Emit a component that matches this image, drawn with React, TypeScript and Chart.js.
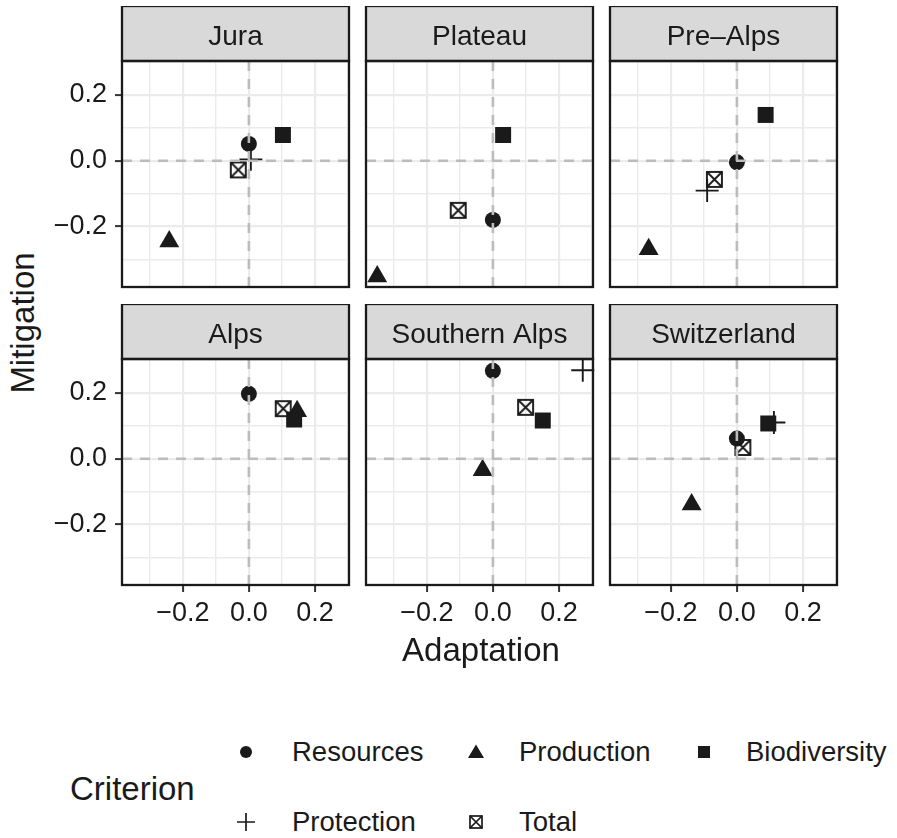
import React, { useEffect, useRef } from 'react';
import { Chart, registerables } from 'chart.js';

Chart.register(...registerables);

// ---------------- data ----------------
const REGIONS = ['Jura', 'Plateau', 'Pre–Alps', 'Alps', 'Southern Alps', 'Switzerland'];
const CRITERIA = ['Resources', 'Production', 'Biodiversity', 'Protection', 'Total'];

const RESOURCES_X = [0, 0, 0, 0, 0, 0];
const RESOURCES_Y = [0.051, -0.18, -0.005, 0.197, 0.267, 0.061];
const PRODUCTION_X = [-0.241, -0.35, -0.267, 0.146, -0.031, -0.137];
const PRODUCTION_Y = [-0.246, -0.352, -0.269, 0.144, -0.035, -0.139];
const BIODIVERSITY_X = [0.103, 0.031, 0.087, 0.137, 0.151, 0.095];
const BIODIVERSITY_Y = [0.078, 0.078, 0.139, 0.119, 0.116, 0.107];
const PROTECTION_X: (number | null)[] = [0.006, null, -0.09, null, 0.272, 0.112];
const PROTECTION_Y: (number | null)[] = [0.004, null, -0.091, null, 0.269, 0.11];
const TOTAL_X = [-0.032, -0.105, -0.068, 0.104, 0.099, 0.018];
const TOTAL_Y = [-0.028, -0.151, -0.057, 0.152, 0.156, 0.034];

const AXIS_MIN = -0.384;
const AXIS_MAX = 0.303;
const MAJOR_TICKS = [-0.2, 0, 0.2];
const TICK_LABELS = ['−0.2', '0.0', '0.2'];
const MINOR_TICKS = [-0.3, -0.1, 0.1, 0.3];

const X_TITLE = 'Adaptation';
const Y_TITLE = 'Mitigation';
const LEGEND_TITLE = 'Criterion';

// ---------------- layout / style ----------------
const FONT = '"Liberation Sans", Arial, Helvetica, sans-serif';
const INK = '#1a1a1a';
const GRID_COLOR = '#ebebeb';
const COL_LEFT = [122, 366, 610];
const ROW_TOP = [61, 359];
const PANEL_W = 227;
const PANEL_H = 226;
const STRIP_H = 55;
const Y_AXIS_W = 80;
const X_AXIS_H = 56;
const PAD_R = 10;

Chart.defaults.font.family = FONT;

const SERIES_X = [RESOURCES_X, PRODUCTION_X, BIODIVERSITY_X, PROTECTION_X, TOTAL_X];
const SERIES_Y = [RESOURCES_Y, PRODUCTION_Y, BIODIVERSITY_Y, PROTECTION_Y, TOTAL_Y];

function makeBoxCross(size: number, lw: number): HTMLCanvasElement {
  const c = document.createElement('canvas');
  const s = Math.ceil(size + lw + 2);
  c.width = s;
  c.height = s;
  const g = c.getContext('2d')!;
  const o = (s - size) / 2;
  g.strokeStyle = INK;
  g.lineWidth = lw;
  g.strokeRect(o, o, size, size);
  g.beginPath();
  g.moveTo(o, o);
  g.lineTo(o + size, o + size);
  g.moveTo(o + size, o);
  g.lineTo(o, o + size);
  g.stroke();
  return c;
}

const isMajor = (v: any) => MAJOR_TICKS.some((m) => Math.abs(m - v) < 1e-9);
const tickLabel = (v: any) => {
  const i = MAJOR_TICKS.findIndex((m) => Math.abs(m - v) < 1e-9);
  return i >= 0 ? TICK_LABELS[i] : '';
};
const GRID_TICKS = [...MAJOR_TICKS, ...MINOR_TICKS].sort((a, b) => a - b);

function buildDatasets(index: number) {
  const boxCross = makeBoxCross(15, 1.9);
  const styles: any[] = [
    { pointStyle: 'circle', pointRadius: 8, order: 5, borderWidth: 0 },
    { pointStyle: 'triangle', pointRadius: 11.5, order: 3, borderWidth: 0 },
    { pointStyle: 'rect', pointRadius: 11.3, order: 2, borderWidth: 0 },
    { pointStyle: 'cross', pointRadius: 11.5, order: 1, borderWidth: 1.9 },
    { pointStyle: boxCross, pointRadius: 8, order: 4, borderWidth: 0 },
  ];
  return CRITERIA.map((label, k) => {
    const x = SERIES_X[k][index];
    const y = SERIES_Y[k][index];
    const st = styles[k];
    return {
      label,
      data: x === null || y === null ? [] : [{ x, y }],
      pointStyle: st.pointStyle,
      pointRadius: st.pointRadius,
      pointBorderWidth: st.borderWidth,
      borderWidth: st.borderWidth,
      backgroundColor: INK,
      borderColor: INK,
      pointBackgroundColor: INK,
      pointBorderColor: INK,
      order: st.order,
      clip: false as any,
      showLine: false,
    };
  });
}

function panelPlugin(name: string) {
  return {
    id: 'panelDecor',
    afterDatasetsDraw(chart: any) {
      const { ctx, chartArea: a, scales } = chart;
      const x0 = scales.x.getPixelForValue(0);
      const y0 = scales.y.getPixelForValue(0);
      ctx.save();
      ctx.beginPath();
      ctx.rect(a.left, a.top, a.right - a.left, a.bottom - a.top);
      ctx.clip();
      ctx.strokeStyle = '#bcbcbc';
      ctx.lineWidth = 2.6;
      ctx.setLineDash([10, 8]);
      ctx.beginPath();
      ctx.moveTo(a.left, y0);
      ctx.lineTo(a.right, y0);
      ctx.stroke();
      ctx.beginPath();
      ctx.moveTo(x0, a.top);
      ctx.lineTo(x0, a.bottom);
      ctx.stroke();
      ctx.restore();
    },
    afterDraw(chart: any) {
      const { ctx, chartArea: a } = chart;
      const w = a.right - a.left;
      const h = a.bottom - a.top;
      ctx.save();
      ctx.fillStyle = '#d9d9d9';
      ctx.fillRect(a.left, a.top - STRIP_H, w, STRIP_H);
      ctx.strokeStyle = INK;
      ctx.lineWidth = 2.3;
      ctx.strokeRect(a.left, a.top - STRIP_H, w, STRIP_H);
      ctx.strokeRect(a.left, a.top, w, h);
      ctx.fillStyle = INK;
      ctx.font = `28px ${FONT}`;
      ctx.textAlign = 'center';
      ctx.textBaseline = 'alphabetic';
      ctx.fillText(name, a.left + w / 2, a.top - 16.5);
      ctx.restore();
    },
  };
}

function Panel({ index }: { index: number }) {
  const ref = useRef<HTMLCanvasElement>(null);
  const col = index % 3;
  const row = Math.floor(index / 3);
  const left = COL_LEFT[col] - Y_AXIS_W;
  const top = ROW_TOP[row] - STRIP_H;
  const width = Y_AXIS_W + PANEL_W + PAD_R;
  const height = STRIP_H + PANEL_H + X_AXIS_H;

  useEffect(() => {
    const showY = col === 0;
    const showX = row === 1;
    const chart = new Chart(ref.current!, {
      type: 'scatter',
      data: { datasets: buildDatasets(index) as any },
      options: {
        responsive: false,
        animation: false,
        events: [],
        layout: { padding: { top: STRIP_H, right: PAD_R, left: 0, bottom: 0 }, autoPadding: false } as any,
        plugins: { legend: { display: false }, tooltip: { enabled: false }, title: { display: false } },
        scales: {
          x: {
            type: 'linear',
            min: AXIS_MIN,
            max: AXIS_MAX,
            afterBuildTicks: (s: any) => {
              s.ticks = GRID_TICKS.map((v) => ({ value: v }));
            },
            afterFit: (s: any) => {
              s.height = X_AXIS_H;
            },
            border: { display: false },
            grid: {
              color: GRID_COLOR,
              lineWidth: (c: any) => (isMajor(c.tick?.value) ? 2.2 : 1.4),
              drawTicks: showX,
              tickLength: 7,
              tickWidth: 2,
              tickColor: (c: any) => (isMajor(c.tick?.value) ? '#333333' : 'rgba(0,0,0,0)'),
            },
            ticks: {
              display: showX,
              autoSkip: false,
              maxRotation: 0,
              minRotation: 0,
              padding: 5,
              color: INK,
              font: { family: FONT, size: 27 },
              callback: (v: any) => tickLabel(v),
            },
          },
          y: {
            type: 'linear',
            min: AXIS_MIN,
            max: AXIS_MAX,
            afterBuildTicks: (s: any) => {
              s.ticks = GRID_TICKS.map((v) => ({ value: v }));
            },
            afterFit: (s: any) => {
              s.width = Y_AXIS_W;
            },
            border: { display: false },
            grid: {
              color: GRID_COLOR,
              lineWidth: (c: any) => (isMajor(c.tick?.value) ? 2.2 : 1.4),
              drawTicks: showY,
              tickLength: 7,
              tickWidth: 2,
              tickColor: (c: any) => (isMajor(c.tick?.value) ? '#333333' : 'rgba(0,0,0,0)'),
            },
            ticks: {
              display: showY,
              autoSkip: false,
              padding: 8,
              color: INK,
              font: { family: FONT, size: 27 },
              callback: (v: any) => tickLabel(v),
            },
          },
        },
      } as any,
      plugins: [panelPlugin(REGIONS[index])],
    });
    return () => chart.destroy();
  }, [index]);

  return (
    <canvas
      ref={ref}
      width={width}
      height={height}
      style={{ position: 'absolute', left, top, width, height }}
    />
  );
}

function LegendIcon({ kind }: { kind: number }) {
  const common = { fill: INK, stroke: 'none' };
  let shape: React.ReactNode = null;
  if (kind === 0) shape = <circle cx={12} cy={12} r={6} {...common} />;
  if (kind === 1) shape = <polygon points="12,4.5 20,18 4,18" {...common} />;
  if (kind === 2) shape = <rect x={6} y={6} width={12} height={12} {...common} />;
  if (kind === 3)
    shape = <path d="M3 12 H21 M12 3 V21" stroke={INK} strokeWidth={1.7} fill="none" />;
  if (kind === 4)
    shape = (
      <g stroke={INK} strokeWidth={1.7} fill="none">
        <rect x={6} y={6} width={12} height={12} />
        <path d="M6 6 L18 18 M18 6 L6 18" />
      </g>
    );
  return (
    <svg width={24} height={24} viewBox="0 0 24 24" style={{ display: 'block' }}>
      {shape}
    </svg>
  );
}

const LEGEND_ICON_X = [246, 476, 704];
const LEGEND_TEXT_X = [292, 519, 746];
const LEGEND_ROW_Y = [752, 822];

export default function App() {
  return (
    <div
      style={{
        position: 'absolute',
        left: 0,
        top: 0,
        width: 897,
        height: 838,
        background: '#ffffff',
        overflow: 'hidden',
        fontFamily: FONT,
        color: INK,
      }}
    >
      {REGIONS.map((_, i) => (
        <Panel key={i} index={i} />
      ))}
      <div
        style={{
          position: 'absolute',
          left: 22,
          top: 323,
          fontSize: 33,
          lineHeight: 1,
          whiteSpace: 'nowrap',
          transform: 'translate(-50%, -50%) rotate(-90deg)',
        }}
      >
        {Y_TITLE}
      </div>
      <div
        style={{
          position: 'absolute',
          left: 481,
          top: 649,
          fontSize: 33,
          lineHeight: 1,
          whiteSpace: 'nowrap',
          transform: 'translate(-50%, -50%)',
        }}
      >
        {X_TITLE}
      </div>
      <div
        style={{
          position: 'absolute',
          left: 70,
          top: 788,
          fontSize: 33,
          lineHeight: 1,
          whiteSpace: 'nowrap',
          transform: 'translateY(-50%)',
        }}
      >
        {LEGEND_TITLE}
      </div>
      {CRITERIA.map((label, k) => {
        const col = k % 3;
        const row = Math.floor(k / 3);
        const cy = LEGEND_ROW_Y[row];
        return (
          <React.Fragment key={label}>
            <div style={{ position: 'absolute', left: LEGEND_ICON_X[col] - 12, top: cy - 12 }}>
              <LegendIcon kind={k} />
            </div>
            <div
              style={{
                position: 'absolute',
                left: LEGEND_TEXT_X[col],
                top: cy,
                fontSize: 27.5,
                lineHeight: 1,
                whiteSpace: 'nowrap',
                transform: 'translateY(-50%)',
              }}
            >
              {label}
            </div>
          </React.Fragment>
        );
      })}
    </div>
  );
}
